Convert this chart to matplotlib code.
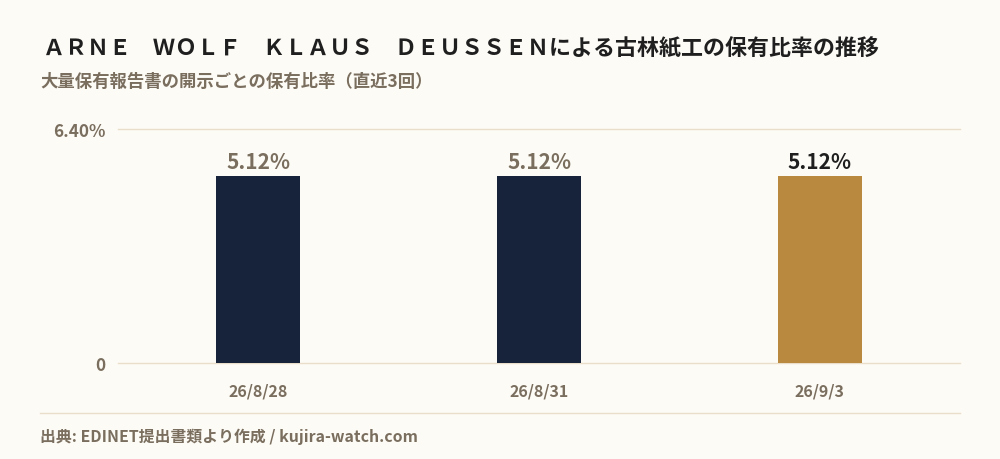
import matplotlib
matplotlib.use('Agg')
import matplotlib.pyplot as plt

plt.rcParams['font.family'] = ['Noto Sans CJK JP', 'DejaVu Sans']

dates = ['26/8/28', '26/8/31', '26/9/3']
ratios = [5.12, 5.12, 5.12]
y_max = 6.40

bg = '#FDFBF6'
navy = '#17223B'
gold = '#B8893E'
muted = '#7A6E5E'
grid_c = '#E9DEC9'

fig = plt.figure(figsize=(10, 4.6), dpi=100, facecolor=bg)
ax = fig.add_axes([0.118, 0.2087, 0.842, 0.5087], facecolor=bg)

colors = [navy] * (len(dates) - 1) + [gold]
x = range(len(dates))
ax.bar(x, ratios, width=0.3, color=colors, zorder=3)

for i, v in enumerate(ratios):
    c = '#1F1F1F' if i == len(ratios) - 1 else muted
    ax.annotate(f'{v:.2f}%', (i, v), xytext=(0, 3), textcoords='offset points',
                ha='center', va='bottom', fontsize=15, fontweight='bold', color=c)

ax.set_xlim(-0.5, len(dates) - 0.5)
ax.set_ylim(0, y_max)
for yv in [0, y_max]:
    ax.axhline(yv, color=grid_c, lw=1, zorder=1, clip_on=False)

ax.set_yticks([0, y_max])
ax.set_yticklabels(['0', f'{y_max:.2f}%'])
ax.set_xticks(list(x))
ax.set_xticklabels(dates)
ax.tick_params(length=0, labelcolor=muted)
ax.tick_params(axis='x', pad=14, labelsize=11.5)
ax.tick_params(axis='y', pad=9, labelsize=12.3)
for lab in ax.get_xticklabels() + ax.get_yticklabels():
    lab.set_fontweight('bold')
for s in ax.spines.values():
    s.set_visible(False)

fig.text(0.043, 0.893, 'ＡＲＮＥ　ＷＯＬＦ　ＫＬＡＵＳ　ＤＥＵＳＳＥＮによる古林紙工の保有比率の推移',
         fontsize=15.8, fontweight='bold', color='#1F1F1F', va='center')
fig.text(0.04, 0.822, '大量保有報告書の開示ごとの保有比率（直近3回）',
         fontsize=12.5, fontweight='bold', color=muted, va='center')

fig.add_artist(plt.Line2D([0.04, 0.96], [0.1, 0.1], color=grid_c, lw=1))
fig.text(0.04, 0.05, '出典: EDINET提出書類より作成 / kujira-watch.com',
         fontsize=11.4, fontweight='bold', color=muted, va='center')

fig.savefig('out.png', dpi=100, facecolor=bg)
